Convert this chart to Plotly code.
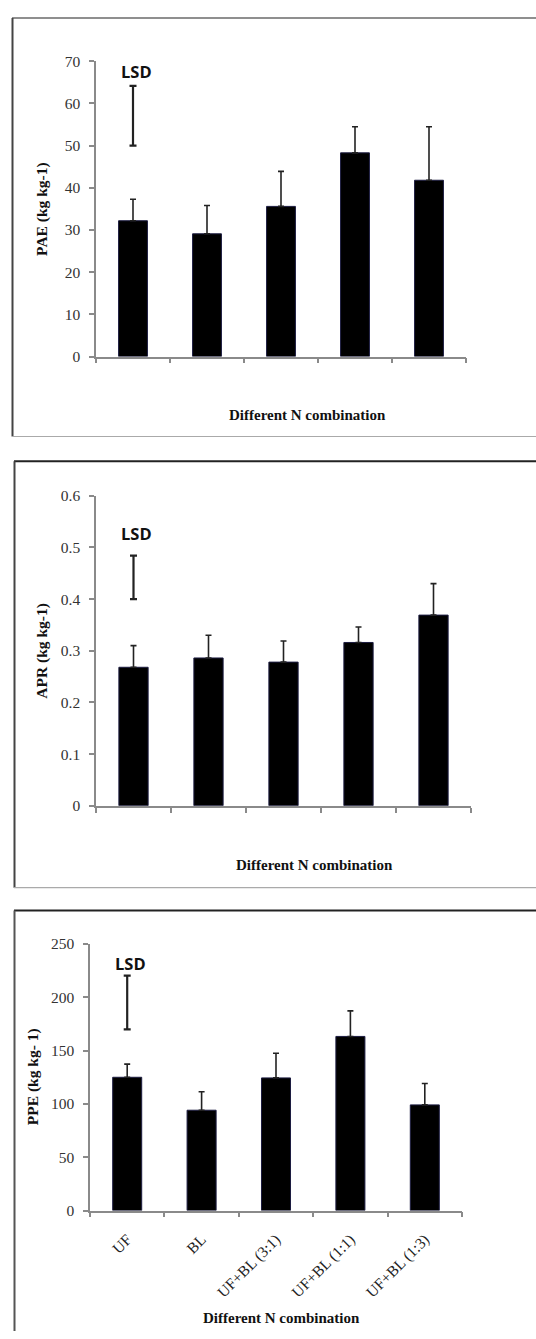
import plotly.graph_objects as go

W, H = 536, 1339

categories = ["UF", "BL", "UF+BL (3:1)", "UF+BL (1:1)", "UF+BL (1:3)"]

pae_mean = [32.2, 29.1, 35.6, 48.3, 41.8]
pae_upper = [37.3, 35.8, 43.9, 54.5, 54.5]
pae_lsd = [50.0, 64.2]
pae_lsd_label_y = 67.7

apr_mean = [0.268, 0.286, 0.278, 0.316, 0.369]
apr_upper = [0.310, 0.330, 0.319, 0.346, 0.430]
apr_lsd = [0.400, 0.484]
apr_lsd_label_y = 0.526

ppe_mean = [125.0, 94.1, 124.4, 163.3, 99.1]
ppe_upper = [137.3, 111.4, 147.5, 187.3, 119.1]
ppe_lsd = [170.0, 220.4]
ppe_lsd_label_y = 232

y_titles = ["PAE (kg kg-1)", "APR (kg kg-1)", "PPE (kg kg- 1)"]
x_title = "Different N combination"
y_ranges = [[0, 70], [0, 0.6], [0, 250]]
y_dticks = [10, 0.1, 50]


def fx(p):
    return p / W


def fy(p):
    return 1 - p / H


# panel geometry in pixels: x0, x1 (axis), y_bottom, y_top
panels = [
    dict(x0=96, x1=466, yb=352, yt=53, ytitle_x=42, xtitle_x=307, xtitle_y=411),
    dict(x0=96, x1=471, yb=807, yt=493, ytitle_x=42, xtitle_x=314, xtitle_y=867),
    dict(x0=90, x1=462, yb=1217, yt=947, ytitle_x=33, xtitle_x=281, xtitle_y=1326),
]

datasets = [
    (pae_mean, pae_upper, pae_lsd, pae_lsd_label_y),
    (apr_mean, apr_upper, apr_lsd, apr_lsd_label_y),
    (ppe_mean, ppe_upper, ppe_lsd, ppe_lsd_label_y),
]

fig = go.Figure()
serif = "Liberation Serif, Times New Roman, serif"
annotations = []

for i, (p, (mean, upper, lsd, lsd_y)) in enumerate(zip(panels, datasets)):
    sfx = "" if i == 0 else str(i + 1)
    xa, ya = "x" + sfx, "y" + sfx
    fig.add_trace(go.Bar(
        x=categories, y=mean, width=0.39,
        marker=dict(color="black", line=dict(color="#1c1c40", width=1)),
        error_y=dict(type="data", symmetric=False,
                     array=[u - m for u, m in zip(upper, mean)],
                     arrayminus=[0] * len(mean),
                     color="#222", thickness=1.6, width=3),
        xaxis=xa, yaxis=ya, showlegend=False, hoverinfo="skip",
    ))
    fig.add_trace(go.Scatter(
        x=[categories[0]], y=[(lsd[0] + lsd[1]) / 2], mode="markers",
        marker=dict(size=0.1, color="rgba(0,0,0,0)"),
        error_y=dict(type="data", symmetric=True, array=[(lsd[1] - lsd[0]) / 2],
                     color="#222", thickness=2.2, width=3.5),
        xaxis=xa, yaxis=ya, showlegend=False, hoverinfo="skip",
    ))
    annotations.append(dict(
        x=categories[0], y=lsd_y, xref=xa, yref=ya, text="LSD", showarrow=False,
        font=dict(family="Open Sans, sans-serif", size=16.5, color="#111", weight="bold"),
        xanchor="center", yanchor="middle", xshift=3,
    ))
    annotations.append(dict(
        x=fx(p["ytitle_x"]), y=fy((p["yb"] + p["yt"]) / 2), xref="paper", yref="paper",
        text="<b>%s</b>" % y_titles[i], textangle=-90, showarrow=False,
        font=dict(family=serif, size=15.5, color="#111"),
        xanchor="center", yanchor="middle",
    ))
    annotations.append(dict(
        x=fx(p["xtitle_x"]), y=fy(p["xtitle_y"]), xref="paper", yref="paper",
        text="<b>%s</b>" % x_title, showarrow=False,
        font=dict(family=serif, size=15, color="#111"),
        xanchor="center", yanchor="middle",
    ))
    axis_common = dict(showgrid=False, zeroline=False, showline=True,
                       linecolor="#8a8a8a", linewidth=1.5, ticks="outside",
                       tickcolor="#8a8a8a", tickwidth=1.5, ticklen=5)
    fig.layout["xaxis" + sfx] = dict(
        axis_common, domain=[fx(p["x0"]), fx(p["x1"])], anchor=ya,
        type="category", range=[-0.5, 4.5], tickson="boundaries",
        showticklabels=(i == 2), tickangle=-45,
        tickfont=dict(family=serif, size=15.5, color="#222"),
        ticklabelstandoff=12, fixedrange=True,
    )
    fig.layout["yaxis" + sfx] = dict(
        axis_common, domain=[fy(p["yb"]), fy(p["yt"])], anchor=xa,
        range=y_ranges[i], dtick=y_dticks[i], tick0=0,
        tickfont=dict(family=serif, size=15.5, color="#333"),
        ticklabelstandoff=6, fixedrange=True,
    )

shapes = []
line_specs = [
    # panel 1
    (12, 9, W, 9, "#6a6a6a", 1.5),
    (12.5, 9, 12.5, 433, "#444", 2),
    (12, 433, W, 433, "#aaa", 1.2),
    # panel 2
    (14, 458, W, 458, "#222", 2),
    (14.5, 458, 14.5, 890, "#444", 2),
    (14, 890, W, 890, "#aaa", 1.2),
    # panel 3
    (14, 913, W, 913, "#222", 2),
    (14.5, 913, 14.5, H, "#555", 2),
]
for x0, y0, x1, y1, c, w in line_specs:
    shapes.append(dict(type="line", xref="paper", yref="paper",
                       x0=fx(x0), y0=fy(y0), x1=fx(x1), y1=fy(y1),
                       line=dict(color=c, width=w)))

fig.update_layout(
    width=W, height=H, margin=dict(l=0, r=0, t=0, b=0),
    paper_bgcolor="white", plot_bgcolor="rgba(0,0,0,0)",
    annotations=annotations, shapes=shapes, bargap=0.6,
)

fig.write_html("out.html", config={"displayModeBar": False})
